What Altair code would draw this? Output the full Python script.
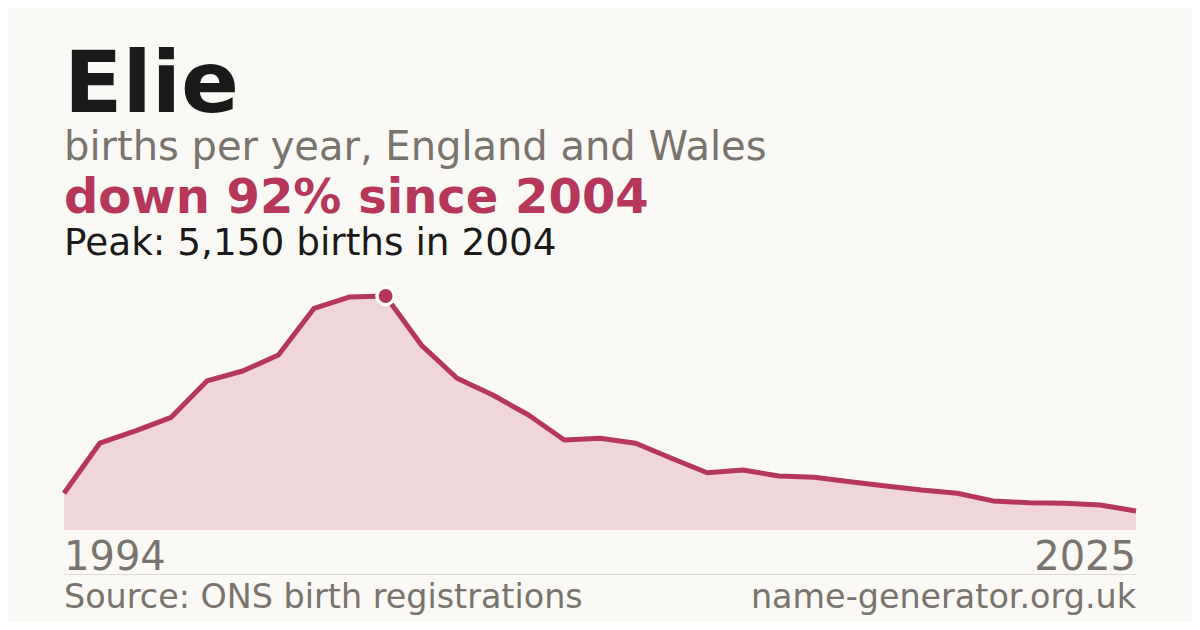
import altair as alt
import pandas as pd

# ---- data ----
years = [1995, 1996, 1997, 1998, 1999, 2000, 2001, 2002, 2003, 2004,
         2005, 2006, 2007, 2008, 2009, 2010, 2011, 2012, 2013, 2014,
         2015, 2016, 2017, 2018, 2019, 2020, 2021, 2022, 2023, 2024, 2025]
births = [810, 1910, 2180, 2480, 3280, 3500, 3850, 4880, 5130, 5150,
          4070, 3340, 2970, 2530, 1980, 2020, 1910, 1580, 1260, 1320,
          1190, 1160, 1060, 970, 880, 810, 640, 600, 590, 550, 420]
axis_labels = ["1994", "2025"]
name = "Elie"
subtitle = "births per year, England and Wales"
source = "Source: ONS birth registrations"
site = "name-generator.org.uk"

df = pd.DataFrame({"year": years, "births": births})
peak_i = max(range(len(births)), key=lambda i: births[i])
peak_year, peak_val = years[peak_i], births[peak_i]
pct = round((1 - births[-1] / peak_val) * 100)
headline = f"down {pct}% since {peak_year}"
peak_text = f"Peak: {peak_val:,} births in {peak_year}"
peak_df = df[df["year"] == peak_year]

RED = "#b5385a"
FILL = "#f0d5da"
DARK = "#1a1a1a"
GRAY = "#79746d"
BG = "#faf9f5"
FONT = "DejaVu Sans"

W, H = 1072, 234
x = alt.X("year:Q", scale=alt.Scale(domain=[years[0], years[-1]], nice=False, zero=False), axis=None)
y = alt.Y("births:Q", scale=alt.Scale(domain=[0, peak_val], nice=False), axis=None)

area = alt.Chart(df).mark_area(color=FILL, opacity=1).encode(x=x, y=y)
line = alt.Chart(df).mark_line(color=RED, strokeWidth=5, strokeJoin="round").encode(x=x, y=y)
dot = alt.Chart(peak_df).mark_point(filled=True, size=300, color=RED, stroke="white",
                                    strokeWidth=3.5, opacity=1, fillOpacity=1).encode(x=x, y=y)


def txt(s, px, py, size, color, weight="normal", align="left"):
    return alt.Chart(pd.DataFrame({"t": [s]})).mark_text(
        font=FONT, fontSize=size, fontWeight=weight, color=color,
        align=align, baseline="alphabetic"
    ).encode(text="t:N", x=alt.value(px), y=alt.value(py))


rule = alt.Chart(pd.DataFrame({"a": [0]})).mark_rule(color="#dddad4", strokeWidth=1).encode(
    x=alt.value(0), x2=alt.value(W), y=alt.value(278.5))

layers = [
    area, line, dot, rule,
    txt(name, 0, -184, 85.5, DARK, "bold"),
    txt(subtitle, 0, -136, 40, GRAY),
    txt(headline, 0, -83, 48, RED, "bold"),
    txt(peak_text, 0, -41, 37.4, DARK),
    txt(axis_labels[0], 0, 274, 40, GRAY),
    txt(axis_labels[1], W, 274, 40, GRAY, align="right"),
    txt(source, 0, 312, 33.4, GRAY),
    txt(site, W, 312, 33.4, GRAY, align="right"),
]

chart = alt.layer(*layers).properties(
    width=W, height=H,
    autosize=alt.AutoSizeParams(type="none"),
    padding={"left": 56, "top": 288, "right": 56, "bottom": 92},
    background=BG,
).configure_view(stroke=None)

chart.save("out.html", embed_options={"renderer": "svg", "actions": False})
